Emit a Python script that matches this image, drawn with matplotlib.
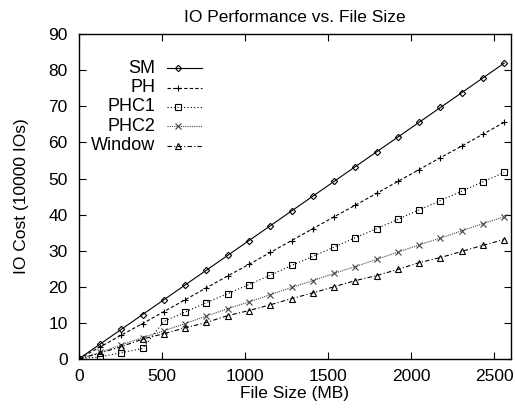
import numpy as np
import matplotlib
matplotlib.use('Agg')
import matplotlib.pyplot as plt

plt.rcParams['font.family'] = ['Liberation Sans', 'DejaVu Sans']

# file sizes in MB
size = [0, 128, 256, 384, 512, 640, 768, 896, 1024, 1152, 1280, 1408,
        1536, 1664, 1792, 1920, 2048, 2176, 2304, 2432, 2560]

# IO cost (10000 IOs)
sm = [0, 4.1, 8.2, 12.3, 16.4, 20.5, 24.6, 28.7, 32.8, 36.9, 41.0, 45.1,
      49.2, 53.3, 57.4, 61.5, 65.6, 69.7, 73.8, 77.9, 82.0]
ph = [0, 3.3, 6.6, 9.8, 13.1, 16.4, 19.7, 23.0, 26.2, 29.5, 32.8, 36.1,
      39.4, 42.6, 45.9, 49.2, 52.5, 55.8, 59.0, 62.3, 65.6]
phc1 = [0, 0.6, 1.7, 2.9, 10.4, 13.0, 15.6, 18.1, 20.6, 23.2, 25.9, 28.4,
        31.0, 33.6, 36.1, 38.7, 41.3, 43.9, 46.5, 49.1, 51.7]
phc2 = [0, 1.8, 3.9, 5.9, 7.8, 9.8, 11.9, 13.9, 15.8, 17.8, 19.8, 21.7,
        23.7, 25.6, 27.6, 29.6, 31.6, 33.5, 35.5, 37.5, 39.4]
window = [0, 1.6, 3.4, 5.5, 7.0, 8.6, 10.1, 12.0, 13.4, 15.0, 16.7, 18.3,
          20.0, 21.7, 23.1, 24.8, 26.7, 28.1, 29.8, 31.5, 33.1]

labels = ['SM', 'PH', 'PHC1', 'PHC2', 'Window']
styles = [
    dict(ls='-', marker='D', ms=3.2, color='black'),
    dict(ls=(0, (3, 2)), marker='+', ms=5, color='black'),
    dict(ls=(0, (1, 2)), marker='s', ms=4.2, color='black'),
    dict(ls=(0, (1, 1)), marker='x', ms=4.2, color='#444444'),
    dict(ls=(0, (4, 2, 1, 2)), marker='^', ms=4, color='black'),
]

fig = plt.figure(figsize=(5.15, 4.13), dpi=100)
ax = fig.add_axes([0.153, 0.131, 0.839, 0.786])

for ys, lab, st in zip([sm, ph, phc1, phc2, window], labels, styles):
    ax.plot(size, ys, lw=0.8, mfc='none', mew=0.8, label=lab, **st)

ax.set_xlim(0, 2600)
ax.set_ylim(0, 90)
ax.set_xticks(np.arange(0, 2501, 500))
ax.set_yticks(np.arange(0, 91, 10))
ax.tick_params(direction='in', top=True, right=True, labelsize=12.5, length=5, width=0.8)
ax.tick_params(axis='x', pad=7)
ax.tick_params(axis='y', pad=8)
for s in ax.spines.values():
    s.set_linewidth(1)

ax.set_title('IO Performance vs. File Size', fontsize=12.5, pad=9)
ax.set_xlabel('File Size (MB)', fontsize=12.5, labelpad=2)
ax.set_ylabel('IO Cost (10000 IOs)', fontsize=12.5, labelpad=14)

# gnuplot-like key: right-aligned labels followed by line samples
tr = ax.transAxes
y0 = 0.895
dy = 0.0595
for i, (lab, st) in enumerate(zip(labels, styles)):
    y = y0 - i * dy
    ax.text(0.177, y, lab, transform=tr, ha='right', va='center', fontsize=13)
    ax.plot([0.204, 0.286], [y, y], transform=tr, lw=0.8, color=st['color'], ls=st['ls'])
    ax.plot([0.23], [y], transform=tr, marker=st['marker'], ms=st['ms'],
            mfc='none', mew=0.8, color=st['color'], ls='none')

fig.savefig('out.png', dpi=100)
